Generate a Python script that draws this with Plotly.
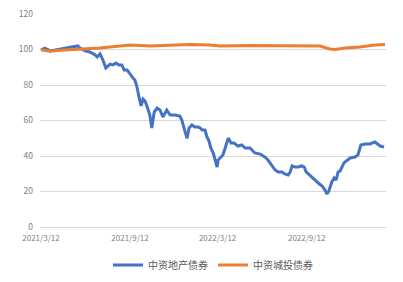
import plotly.graph_objects as go

property_dates = [
    "2021-03-12", "2021-03-20", "2021-03-31", "2021-04-10", "2021-04-20", "2021-05-01",
    "2021-05-11", "2021-05-21", "2021-05-27", "2021-06-01", "2021-06-11", "2021-06-21",
    "2021-07-02", "2021-07-06", "2021-07-12", "2021-07-18", "2021-07-24", "2021-08-02",
    "2021-08-08", "2021-08-14", "2021-08-20", "2021-08-26", "2021-08-31", "2021-09-06",
    "2021-09-10", "2021-09-14", "2021-09-18", "2021-09-22", "2021-09-26", "2021-10-01",
    "2021-10-05", "2021-10-09", "2021-10-13", "2021-10-17", "2021-10-23", "2021-10-27",
    "2021-11-01", "2021-11-07", "2021-11-13", "2021-11-19", "2021-11-23", "2021-11-27",
    "2021-12-04", "2021-12-14", "2021-12-24", "2021-12-28", "2022-01-04", "2022-01-08",
    "2022-01-12", "2022-01-18", "2022-01-24", "2022-01-31", "2022-02-04", "2022-02-08",
    "2022-02-14", "2022-02-18", "2022-02-22", "2022-02-26", "2022-03-03", "2022-03-07",
    "2022-03-11", "2022-03-13", "2022-03-17", "2022-03-23", "2022-03-29", "2022-04-03",
    "2022-04-09", "2022-04-15", "2022-04-23", "2022-05-01", "2022-05-08", "2022-05-18",
    "2022-05-22", "2022-05-28", "2022-06-08", "2022-06-18", "2022-06-24", "2022-07-02",
    "2022-07-09", "2022-07-15", "2022-07-23", "2022-07-29", "2022-08-05", "2022-08-09",
    "2022-08-13", "2022-08-19", "2022-08-25", "2022-09-02", "2022-09-07", "2022-09-11",
    "2022-09-15", "2022-09-21", "2022-09-29", "2022-10-06", "2022-10-14", "2022-10-20",
    "2022-10-24", "2022-10-28", "2022-11-03", "2022-11-08", "2022-11-12", "2022-11-16",
    "2022-11-20", "2022-11-28", "2022-12-05", "2022-12-11", "2022-12-21", "2022-12-27",
    "2023-01-02", "2023-01-11", "2023-01-21", "2023-01-31", "2023-02-11", "2023-02-19",
]
property_values = [
    99.7, 100.8, 99.2, 99.7, 100.0, 100.6,
    101.1, 101.4, 102.0, 100.8, 99.2, 98.6,
    96.9, 95.8, 97.5, 94.1, 89.6, 91.8,
    91.3, 92.4, 91.3, 91.3, 88.5, 88.5,
    86.8, 85.6, 84.0, 82.8, 79.4, 72.7,
    68.2, 72.1, 71.0, 68.2, 63.1, 55.8,
    64.8, 67.0, 65.9, 62.0, 64.2, 65.9,
    63.1, 63.1, 62.5, 60.3, 53.5, 50.0,
    55.8, 57.5, 56.3, 56.3, 55.8, 54.6,
    54.6, 50.7, 48.5, 44.5, 41.7, 38.3,
    33.8, 37.7, 38.9, 40.6, 45.6, 50.1,
    47.3, 47.3, 45.6, 46.2, 44.5, 44.5,
    43.4, 41.7, 41.1, 39.4, 37.7, 34.9,
    32.1, 31.0, 31.0, 29.9, 29.3, 31.0,
    34.4, 33.8, 33.8, 34.4, 33.8, 31.0,
    29.9, 28.7, 26.5, 24.8, 23.1, 20.8,
    18.6, 20.3, 25.4, 27.6, 26.5, 31.0,
    31.5, 36.1, 37.7, 38.9, 39.4, 40.6,
    46.2, 46.8, 46.8, 47.9, 45.6, 45.1,
]

lgfv_dates = [
    "2021-03-12", "2021-03-31", "2021-04-20", "2021-06-01", "2021-07-12", "2021-08-22",
    "2021-09-12", "2021-10-23", "2021-12-04", "2022-01-14", "2022-02-24", "2022-03-17",
    "2022-05-18", "2022-07-19", "2022-08-29", "2022-10-10", "2022-10-30", "2022-11-10",
    "2022-11-30", "2022-12-31", "2023-01-31", "2023-02-21",
]
lgfv_values = [
    99.8, 99.0, 99.6, 100.3, 100.8, 102.0,
    102.5, 102.0, 102.5, 102.8, 102.5, 102.0,
    102.3, 102.3, 102.3, 102.0, 100.3, 100.0,
    100.8, 101.4, 102.5, 102.8,
]

tick_vals = ["2021-03-12", "2021-09-12", "2022-03-12", "2022-09-12"]
tick_text = ["2021/3/12", "2021/9/12", "2022/3/12", "2022/9/12"]

FONT = "Noto Sans CJK SC"
GRAY = "#595959"

fig = go.Figure()
fig.add_trace(go.Scatter(x=property_dates, y=property_values, mode="lines",
                         name="中资地产债券", line=dict(color="#4472C4", width=3)))
fig.add_trace(go.Scatter(x=lgfv_dates, y=lgfv_values, mode="lines",
                         name="中资城投债券", line=dict(color="#ED7D31", width=3)))

fig.update_layout(
    width=403, height=282,
    margin=dict(l=40, r=17, t=14, b=55, autoexpand=False),
    paper_bgcolor="white", plot_bgcolor="white",
    font=dict(family=FONT, size=9, color=GRAY),
    showlegend=True,
    legend=dict(orientation="h", x=0.5, xanchor="center", y=-0.11, yanchor="top",
                font=dict(size=10, color=GRAY), itemwidth=30),
    xaxis=dict(type="date", range=["2021-03-10", "2023-02-23"],
               tickvals=tick_vals, ticktext=tick_text, showgrid=False,
               showline=False, zeroline=False, ticks="", ticklabelstandoff=5,
               tickfont=dict(size=8, color="#7f7f7f")),
    yaxis=dict(range=[0, 120], dtick=20, showgrid=True, gridcolor="#D9D9D9",
               gridwidth=1, zeroline=True, zerolinecolor="#D9D9D9", zerolinewidth=1,
               showline=False, ticks="", ticklabelstandoff=6,
               tickfont=dict(size=8.5, color="#7f7f7f")),
)

fig.write_html("out.html")
